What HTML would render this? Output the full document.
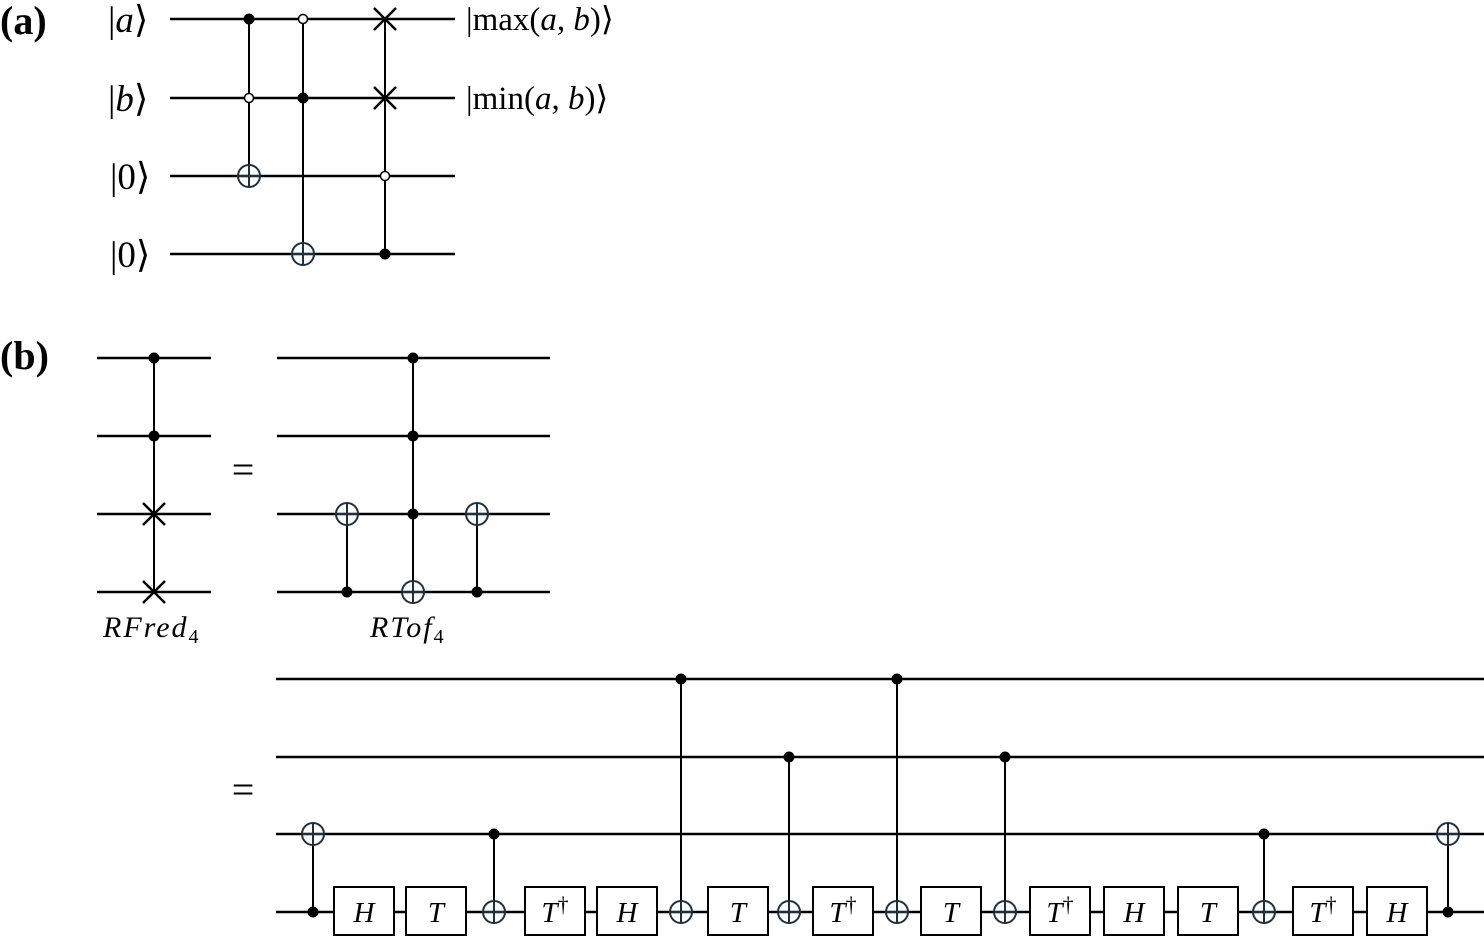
<!DOCTYPE html>
<html><head><meta charset="utf-8"><style>
html,body{margin:0;padding:0;background:#fff;}
svg{display:block;}
text{font-family:"Liberation Serif",serif;fill:#000;}
.i{font-style:italic;}
</style></head><body>
<svg width="1484" height="937" viewBox="0 0 1484 937" xmlns="http://www.w3.org/2000/svg">
<g stroke="#000" stroke-width="2.5" fill="none">
<line x1="170" y1="19" x2="455" y2="19"/>
<line x1="170" y1="98" x2="455" y2="98"/>
<line x1="170" y1="176" x2="455" y2="176"/>
<line x1="170" y1="254" x2="455" y2="254"/>
<line x1="249" y1="19" x2="249" y2="176" stroke-width="2"/>
<line x1="303" y1="19" x2="303" y2="254" stroke-width="2"/>
<line x1="385" y1="19" x2="385" y2="254" stroke-width="2"/>
<line x1="97" y1="358" x2="211" y2="358"/>
<line x1="97" y1="436" x2="211" y2="436"/>
<line x1="97" y1="514" x2="211" y2="514"/>
<line x1="97" y1="592" x2="211" y2="592"/>
<line x1="154" y1="358" x2="154" y2="592" stroke-width="2"/>
<line x1="277" y1="358" x2="550" y2="358"/>
<line x1="277" y1="436" x2="550" y2="436"/>
<line x1="277" y1="514" x2="550" y2="514"/>
<line x1="277" y1="592" x2="550" y2="592"/>
<line x1="347" y1="514" x2="347" y2="592" stroke-width="2"/>
<line x1="413" y1="358" x2="413" y2="592" stroke-width="2"/>
<line x1="477" y1="514" x2="477" y2="592" stroke-width="2"/>
<line x1="276" y1="679" x2="1484" y2="679"/>
<line x1="276" y1="757" x2="1484" y2="757"/>
<line x1="276" y1="834" x2="1484" y2="834"/>
<line x1="276" y1="912" x2="1484" y2="912"/>
<g stroke-width="2">
<line x1="313" y1="834" x2="313" y2="912"/>
<line x1="494" y1="834" x2="494" y2="912"/>
<line x1="681" y1="679" x2="681" y2="912"/>
<line x1="789" y1="757" x2="789" y2="912"/>
<line x1="897" y1="679" x2="897" y2="912"/>
<line x1="1005" y1="757" x2="1005" y2="912"/>
<line x1="1264" y1="834" x2="1264" y2="912"/>
<line x1="1448" y1="834" x2="1448" y2="912"/>
</g>
<path d="M374 8L396 30M396 8L374 30M374 87L396 109M396 87L374 109M143 503L165 525M165 503L143 525M143 581L165 603M165 581L143 603"/>
</g>
<g stroke="#1e3040" stroke-width="2" fill="none">
<g transform="translate(249,176)"><circle r="11"/><path d="M-11 0H11M0 -11V11"/></g>
<g transform="translate(303,254)"><circle r="11"/><path d="M-11 0H11M0 -11V11"/></g>
<g transform="translate(347,514)"><circle r="11"/><path d="M-11 0H11M0 -11V11"/></g>
<g transform="translate(413,592)"><circle r="11"/><path d="M-11 0H11M0 -11V11"/></g>
<g transform="translate(477,514)"><circle r="11"/><path d="M-11 0H11M0 -11V11"/></g>
<g transform="translate(313,834)"><circle r="11"/><path d="M-11 0H11M0 -11V11"/></g>
<g transform="translate(494,912)"><circle r="11"/><path d="M-11 0H11M0 -11V11"/></g>
<g transform="translate(681,912)"><circle r="11"/><path d="M-11 0H11M0 -11V11"/></g>
<g transform="translate(789,912)"><circle r="11"/><path d="M-11 0H11M0 -11V11"/></g>
<g transform="translate(897,912)"><circle r="11"/><path d="M-11 0H11M0 -11V11"/></g>
<g transform="translate(1005,912)"><circle r="11"/><path d="M-11 0H11M0 -11V11"/></g>
<g transform="translate(1264,912)"><circle r="11"/><path d="M-11 0H11M0 -11V11"/></g>
<g transform="translate(1448,834)"><circle r="11"/><path d="M-11 0H11M0 -11V11"/></g>
</g>
<g fill="#000">
<circle cx="249" cy="19" r="5.5"/><circle cx="303" cy="98" r="5.5"/><circle cx="385" cy="254" r="5.5"/>
<circle cx="154" cy="358" r="5.5"/><circle cx="154" cy="436" r="5.5"/>
<circle cx="347" cy="592" r="5.5"/><circle cx="413" cy="358" r="5.5"/><circle cx="413" cy="436" r="5.5"/><circle cx="413" cy="514" r="5.5"/><circle cx="477" cy="592" r="5.5"/>
<circle cx="313" cy="912" r="5.5"/><circle cx="494" cy="834" r="5.5"/><circle cx="681" cy="679" r="5.5"/><circle cx="789" cy="757" r="5.5"/><circle cx="897" cy="679" r="5.5"/><circle cx="1005" cy="757" r="5.5"/><circle cx="1264" cy="834" r="5.5"/><circle cx="1448" cy="912" r="5.5"/>
</g>
<g fill="#fff" stroke="#000" stroke-width="1.5">
<circle cx="303" cy="19" r="4.5"/><circle cx="249" cy="98" r="4.5"/><circle cx="385" cy="176" r="4.5"/>
</g>
<g fill="#fff" stroke="#000" stroke-width="2">
<rect x="334" y="887" width="60" height="48"/>
<rect x="406" y="887" width="60" height="48"/>
<rect x="525" y="887" width="60" height="48"/>
<rect x="597" y="887" width="60" height="48"/>
<rect x="708" y="887" width="60" height="48"/>
<rect x="813" y="887" width="60" height="48"/>
<rect x="921" y="887" width="60" height="48"/>
<rect x="1030" y="887" width="60" height="48"/>
<rect x="1104" y="887" width="60" height="48"/>
<rect x="1178" y="887" width="60" height="48"/>
<rect x="1293" y="887" width="60" height="48"/>
<rect x="1367" y="887" width="60" height="48"/>
</g>
<g font-size="29" text-anchor="middle">
<text x="364" y="922" class="i">H</text>
<text x="436" y="922" class="i">T</text>
<text x="555" y="922" class="i">T<tspan font-style="normal" dy="-10" font-size="22">†</tspan></text>
<text x="627" y="922" class="i">H</text>
<text x="738" y="922" class="i">T</text>
<text x="843" y="922" class="i">T<tspan font-style="normal" dy="-10" font-size="22">†</tspan></text>
<text x="951" y="922" class="i">T</text>
<text x="1060" y="922" class="i">T<tspan font-style="normal" dy="-10" font-size="22">†</tspan></text>
<text x="1134" y="922" class="i">H</text>
<text x="1208" y="922" class="i">T</text>
<text x="1323" y="922" class="i">T<tspan font-style="normal" dy="-10" font-size="22">†</tspan></text>
<text x="1397" y="922" class="i">H</text>
</g>
<text x="0" y="34" font-size="40" font-weight="bold">(a)</text>
<text x="0" y="369" font-size="40" font-weight="bold">(b)</text>
<g font-size="37">
<text x="108" y="32">|<tspan class="i">a</tspan>⟩</text>
<text x="108" y="111">|<tspan class="i">b</tspan>⟩</text>
<text x="110" y="189">|0⟩</text>
<text x="110" y="267">|0⟩</text>
<text x="466" y="30" font-size="33">|max(<tspan class="i">a</tspan>, <tspan class="i">b</tspan>)⟩</text>
<text x="466" y="109" font-size="33">|min(<tspan class="i">a</tspan>, <tspan class="i">b</tspan>)⟩</text>
<text x="243" y="483" text-anchor="middle" font-size="40">=</text>
<text x="243" y="803" text-anchor="middle" font-size="40">=</text>
</g>
<text x="103" y="637" font-size="30" class="i" letter-spacing="2">RFred<tspan font-style="normal" font-size="20" dy="6">4</tspan></text>
<text x="370" y="637" font-size="30" class="i" letter-spacing="2">RTof<tspan font-style="normal" font-size="20" dy="6">4</tspan></text>
</svg>
</body></html>
